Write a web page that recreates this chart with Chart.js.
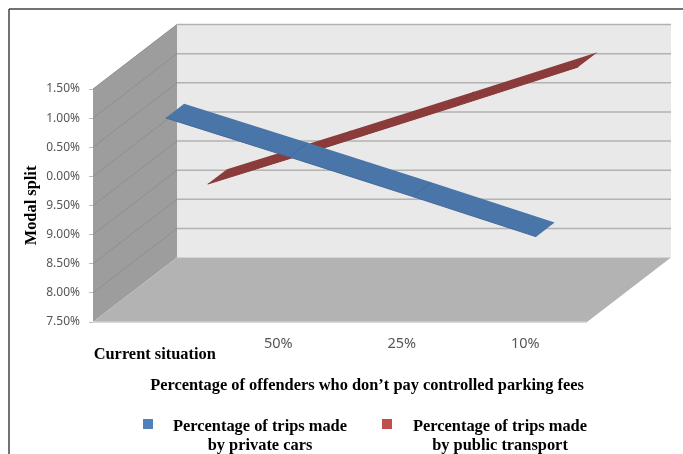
<!DOCTYPE html>
<html>
<head>
<meta charset="utf-8">
<title>Modal split</title>
<script src="https://cdn.jsdelivr.net/npm/chart.js@4"></script>
<style>
    html, body { margin: 0; padding: 0; background: #fff; overflow: hidden; }
    #myChart { display: block; }
</style>
</head>
<body>
<canvas id="myChart" width="683" height="454"></canvas>
<script>
// values, the y labels lost their first digit in the original
const categories = [['', 'Current situation'], '50%', '25%', '10%'];
const privateCars = [10.86, 10.19, 9.51, 8.82];
const publicTransport = [9.17, 9.83, 10.50, 11.18];
const yTickLabels = ['7.50%', '8.00%', '8.50%', '9.00%', '9.50%', '0.00%', '0.50%', '1.00%', '1.50%'];
const seriesNames = [
    ['Percentage of trips made', 'by private cars'],
    ['Percentage of trips made', 'by public transport']
];
const xTitle = 'Percentage of offenders who don\u2019t pay controlled parking fees';
const yTitle = 'Modal split';

const serif = '"Liberation Serif", serif';
const sans = '"Noto Sans", sans-serif';

// depth of the fake 3d box
const depthX = 84;
const depthY = -64.5;
// where each ribbon sits in the depth of the box (front, back)
const ribbonDepth = [[0.13, 0.35], [0.63, 0.86]];
const ribbonFill = ['#4a75a8', '#8c3b3b'];
const ribbonEdge = ['#44699a', '#843636'];

function poly(ctx, pts, color) {
    ctx.fillStyle = color;
    ctx.beginPath();
    pts.forEach(function (p, i) {
        if (i === 0) ctx.moveTo(p[0], p[1]);
        else ctx.lineTo(p[0], p[1]);
    });
    ctx.closePath();
    ctx.fill();
}

function segment(ctx, x1, y1, x2, y2, color, width) {
    ctx.strokeStyle = color;
    ctx.lineWidth = width;
    ctx.beginPath();
    ctx.moveTo(x1, y1);
    ctx.lineTo(x2, y2);
    ctx.stroke();
}

const box3d = {
    id: 'box3d',
    beforeDatasetsDraw: function (chart) {
        const ctx = chart.ctx;
        const a = chart.chartArea;
        const y = chart.scales.y;
        ctx.save();
        // back wall, left wall, floor
        poly(ctx, [[a.left + depthX, a.top + depthY], [a.right + depthX, a.top + depthY], [a.right + depthX, a.bottom + depthY], [a.left + depthX, a.bottom + depthY]], '#e9e9e9');
        poly(ctx, [[a.left, a.top], [a.left + depthX, a.top + depthY], [a.left + depthX, a.bottom + depthY], [a.left, a.bottom]], '#9d9d9d');
        poly(ctx, [[a.left, a.bottom], [a.left + depthX, a.bottom + depthY], [a.right + depthX, a.bottom + depthY], [a.right, a.bottom]], '#b3b3b3');
        // grid lines follow the y scale
        y.ticks.forEach(function (t) {
            const py = y.getPixelForValue(t.value);
            if (t.value > y.min) {
                segment(ctx, a.left + depthX, py + depthY, a.right + depthX, py + depthY, '#b2b2b2', 1.5);
                segment(ctx, a.left, py, a.left + depthX, py + depthY, '#8f8f8f', 1);
            }
        });
        segment(ctx, a.left, a.bottom, a.right, a.bottom, '#cfcfcf', 1.5);
        ctx.restore();
    },
    beforeDatasetDraw: function (chart, args) {
        const ctx = chart.ctx;
        const pts = args.meta.data;
        const d = ribbonDepth[args.index];
        const fx = d[0] * depthX, fy = d[0] * depthY;
        const bx = d[1] * depthX, by = d[1] * depthY;
        const shape = [];
        pts.forEach(function (p) { shape.push([p.x + fx, p.y + fy]); });
        pts.slice().reverse().forEach(function (p) { shape.push([p.x + bx, p.y + by]); });
        ctx.save();
        poly(ctx, shape, ribbonFill[args.index]);
        // fold of the ribbon at the inner points
        pts.slice(1, -1).forEach(function (p) {
            segment(ctx, p.x + fx, p.y + fy, p.x + bx, p.y + by, ribbonEdge[args.index], 1);
        });
        // the line itself is the front edge of the ribbon
        ctx.translate(fx, fy);
    },
    afterDatasetDraw: function (chart) {
        chart.ctx.restore();
    },
    afterDraw: function (chart) {
        const ctx = chart.ctx;
        ctx.save();
        // frame of the screenshot
        segment(ctx, 9, 454, 9, 9, '#444444', 1.5);
        segment(ctx, 9, 9, 683, 9, '#444444', 1.5);
        ctx.fillStyle = '#000';
        ctx.textAlign = 'center';
        ctx.textBaseline = 'middle';
        ctx.font = 'bold 16.4px ' + serif;
        ctx.fillText(xTitle, 367, 386);
        // legend
        const markers = [[143, '#4f81bd'], [382, '#c0504d']];
        const centers = [260, 500];
        seriesNames.forEach(function (lines, i) {
            ctx.fillStyle = markers[i][1];
            ctx.fillRect(markers[i][0], 419, 10, 10);
            ctx.fillStyle = '#000';
            ctx.fillText(lines[0], centers[i], 427);
            ctx.fillText(lines[1], centers[i], 446);
        });
        ctx.restore();
    }
};

var ctx = document.getElementById('myChart').getContext('2d');
var myChart = new Chart(ctx, {
    type: 'line',
    plugins: [box3d],
    data: {
        labels: categories,
        datasets: [
            { label: seriesNames[0].join(' '), data: privateCars, borderColor: ribbonEdge[0], borderWidth: 1, pointRadius: 0, tension: 0 },
            { label: seriesNames[1].join(' '), data: publicTransport, borderColor: ribbonEdge[1], borderWidth: 1, pointRadius: 0, tension: 0 }
        ]
    },
    options: {
        responsive: false,
        animation: false,
        layout: { padding: { left: 0, top: 89, right: 96, bottom: 0 } },
        plugins: {
            legend: { display: false },
            tooltip: { enabled: false }
        },
        scales: {
            x: {
                offset: true,
                afterFit: function (scale) { scale.height = 132; },
                border: { display: false },
                grid: { display: false },
                ticks: {
                    autoSkip: false,
                    maxRotation: 0,
                    padding: 5,
                    color: function (c) { return c.index === 0 ? '#000' : '#555555'; },
                    font: function (c) {
                        return c.index === 0
                            ? { family: serif, size: 16.4, weight: 'bold', lineHeight: '13px' }
                            : { family: sans, size: 14.5 };
                    }
                }
            },
            y: {
                min: 7.5,
                max: 11.5,
                afterFit: function (scale) { scale.width = 93; },
                border: { display: false },
                grid: { drawOnChartArea: false, tickLength: 4, color: '#bdbdbd' },
                title: {
                    display: true,
                    text: yTitle,
                    color: '#000',
                    padding: { top: 22, bottom: 0 },
                    font: { family: serif, size: 16.4, weight: 'bold' }
                },
                ticks: {
                    stepSize: 0.5,
                    padding: 9,
                    color: '#555555',
                    font: { family: sans, size: 12 },
                    callback: function (value, index) { return yTickLabels[index]; }
                }
            }
        }
    }
});
</script>
</body>
</html>
